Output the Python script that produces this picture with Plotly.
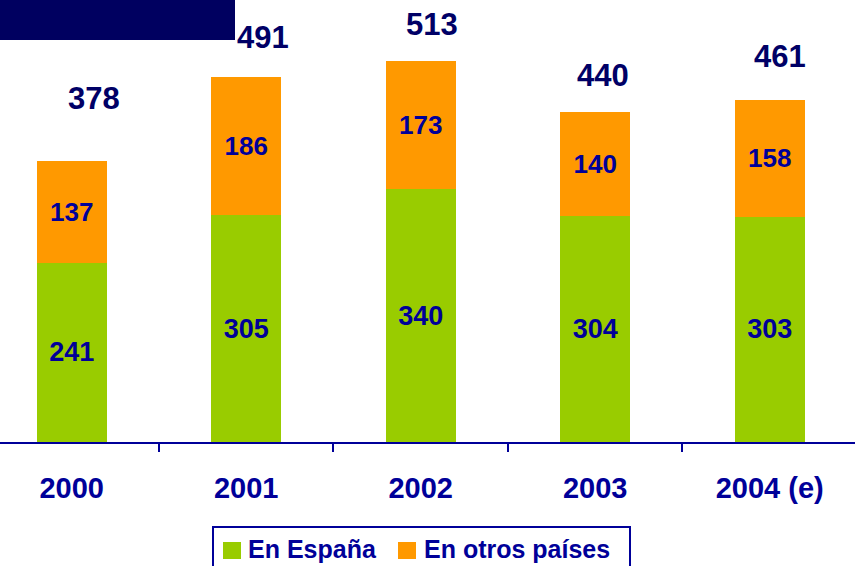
import plotly.graph_objects as go

# ---- data ----
years = ["2000", "2001", "2002", "2003", "2004 (e)"]
en_espana = [241, 305, 340, 304, 303]
en_otros = [137, 186, 173, 140, 158]
totals = [378, 491, 513, 440, 461]
series_names = ["En España", "En otros países"]

# ---- style ----
GREEN = "#99CC00"
ORANGE = "#FF9900"
NAVY_DARK = "#000066"
NAVY = "#000099"
FONT = "Liberation Sans, Arial, sans-serif"
W, H = 855, 566
PLOT_BOTTOM = 442  # px of x axis line
total_label_lift = [63, 40, 36, 40, 43]   # px above bar top (label centre)
total_label_xshift = [22, 17, 11, 8, 10]  # px right of bar centre


def px_x(p):
    return p / W


def px_y(p):
    return (PLOT_BOTTOM - p) / PLOT_BOTTOM


fig = go.Figure()
fig.add_trace(go.Bar(
    x=years, y=en_espana, name=series_names[0],
    marker=dict(color=GREEN, line=dict(width=0)),
    text=[str(v) for v in en_espana], textposition="inside",
    insidetextanchor="middle", textangle=0,
    textfont=dict(family=FONT, size=27, color=NAVY, weight="bold"),
    showlegend=False,
))
fig.add_trace(go.Bar(
    x=years, y=en_otros, name=series_names[1],
    marker=dict(color=ORANGE, line=dict(width=0)),
    text=[str(v) for v in en_otros], textposition="inside",
    insidetextanchor="middle", textangle=0,
    textfont=dict(family=FONT, size=26, color=NAVY, weight="bold"),
    showlegend=False,
))

for i, t in enumerate(totals):
    fig.add_annotation(
        x=i, y=t, xref="x", yref="y", text="<b>%d</b>" % t, showarrow=False,
        yanchor="middle", yshift=total_label_lift[i],
        xshift=total_label_xshift[i],
        font=dict(family=FONT, size=31, color=NAVY_DARK),
    )

# dark title block at top-left
fig.add_shape(type="rect", xref="paper", yref="paper",
              x0=0, x1=px_x(235), y0=px_y(40), y1=px_y(-2),
              fillcolor="#000060", line=dict(width=0), layer="above")

# legend (box, swatches, labels)
fig.add_shape(type="rect", xref="paper", yref="paper",
              x0=px_x(213), x1=px_x(630), y0=px_y(575), y1=px_y(527),
              fillcolor="white", line=dict(color=NAVY, width=2))
legend_items = [(GREEN, 223, 246), (ORANGE, 398, 422)]
for (col, sx, tx), name in zip(legend_items, series_names):
    fig.add_shape(type="rect", xref="paper", yref="paper",
                  x0=px_x(sx), x1=px_x(sx + 18), y0=px_y(559), y1=px_y(542),
                  fillcolor=col, line=dict(width=0))
    fig.add_annotation(x=px_x(tx), y=px_y(549), xref="paper", yref="paper",
                       text="<b>%s</b>" % name, showarrow=False,
                       xanchor="left", yanchor="middle",
                       font=dict(family=FONT, size=25, color=NAVY))

fig.update_layout(
    width=W, height=H,
    margin=dict(l=0, r=0, t=0, b=H - PLOT_BOTTOM, pad=0),
    paper_bgcolor="white", plot_bgcolor="white",
    barmode="stack", bargap=0.6,
    font=dict(family=FONT, color=NAVY),
    showlegend=False,
    xaxis=dict(
        type="category", range=[-0.411, 4.489],
        showline=True, linecolor=NAVY, linewidth=2,
        ticks="outside", tickson="boundaries", ticklen=8,
        tickcolor=NAVY, tickwidth=2,
        tickfont=dict(family=FONT, size=29, color=NAVY, weight="bold"),
        ticklabelstandoff=19,
        showgrid=False, zeroline=False,
    ),
    yaxis=dict(
        range=[0, 595], visible=False, showgrid=False, zeroline=False,
    ),
)

fig.write_html("out.html", config={"displayModeBar": False},
               post_script="document.body.style.margin='0';")
